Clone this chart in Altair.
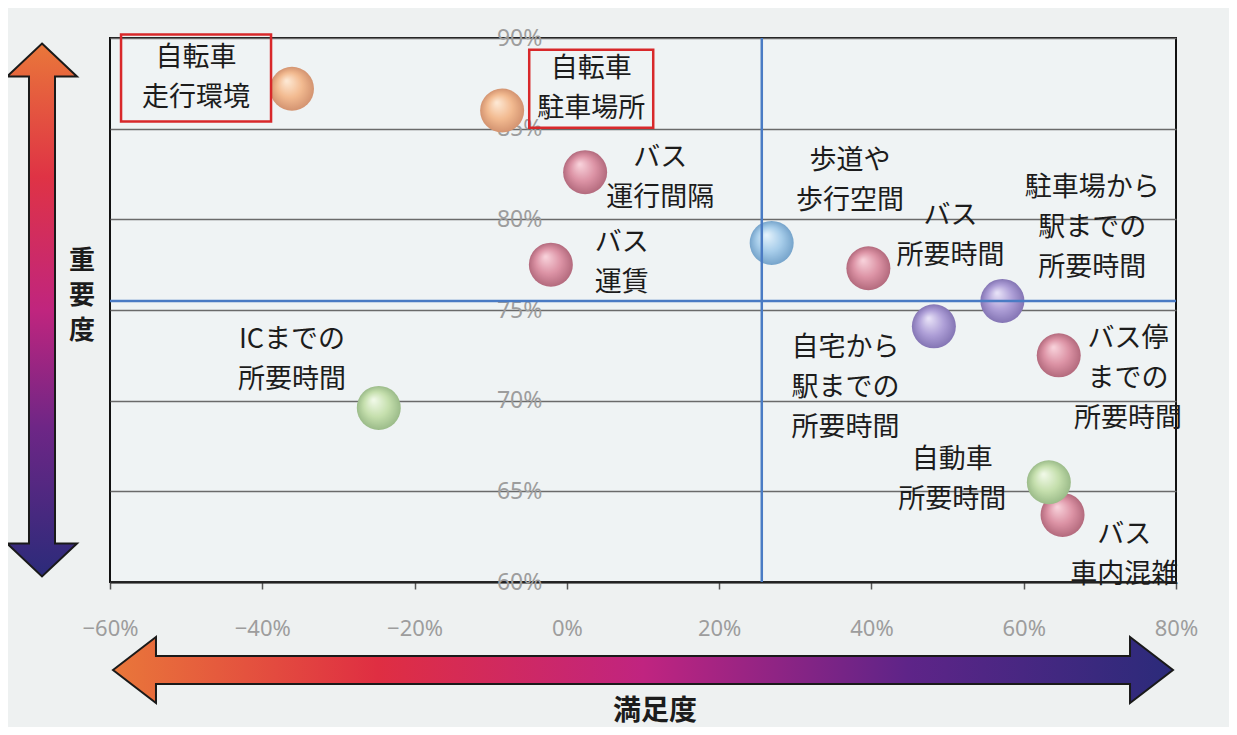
import altair as alt
import pandas as pd

# ---------------- data ----------------
items = [
    "自転車\n走行環境", "自転車\n駐車場所", "バス\n運行間隔", "バス\n運賃",
    "歩道や\n歩行空間", "バス\n所要時間", "駐車場から\n駅までの\n所要時間",
    "自宅から\n駅までの\n所要時間", "バス停\nまでの\n所要時間", "ICまでの\n所要時間",
    "自動車\n所要時間", "バス\n車内混雑",
]
satisfaction = [-36.1, -8.5, 2.4, -2.1, 26.9, 39.6, 57.2, 48.2, 64.6, -24.7, 63.3, 65.1]
importance = [87.2, 86.0, 82.6, 77.5, 78.7, 77.3, 75.5, 74.1, 72.5, 69.6, 65.5, 63.7]
groups = ["bike", "bike", "bus", "bus", "walk", "bus", "station", "station", "bus", "car", "car", "bus"]
highlighted = [True, True] + [False] * 10
# label anchor positions (data units)
label_x = [-48.7, 3.2, 12.25, 7.2, 37.2, 50.4, 69.0, 36.6, 73.7, -36.1, 50.6, 73.2]
label_y = [87.8, 87.2, 82.3, 77.6, 82.1, 79.1, 79.5, 70.7, 71.2, 72.25, 65.6, 61.5]

avg_satisfaction = [25.6]
avg_importance = [75.5]

x_ticks = [-60, -40, -20, 0, 20, 40, 60, 80]
y_ticks = [60, 65, 70, 75, 80, 85, 90]
x_title = "満足度"
y_title = "重\n要\n度"

# ---------------- styling ----------------
W, H = 1066, 544
FONT = "Noto Sans CJK JP"
LABEL_SIZE = 27
LINE_H = 40

sphere_colors = {
    "bike": ("#fde7d2", "#f2ba90", "#d39370"),
    "bus": ("#f7d0d9", "#dc93a5", "#b36a7d"),
    "walk": ("#e4f2fb", "#a7cdea", "#76a4cb"),
    "station": ("#e6e0f6", "#ae9fd7", "#8475b4"),
    "car": ("#eff8e6", "#c5dfad", "#9bbb89"),
}
group_order = ["bike", "bus", "walk", "station", "car"]


def sphere(hi, mid, edge):
    return {
        "gradient": "radial",
        "x1": 0.38, "y1": 0.32, "r1": 0.02,
        "x2": 0.5, "y2": 0.5, "r2": 0.5,
        "stops": [
            {"offset": 0, "color": hi},
            {"offset": 0.55, "color": mid},
            {"offset": 1, "color": edge},
        ],
    }


df = pd.DataFrame({
    "item": items,
    "satisfaction": satisfaction,
    "importance": importance,
    "group": groups,
    "highlighted": highlighted,
    "label_x": label_x,
    "label_y": label_y,
})
df["nlines"] = df["item"].str.count("\n") + 1

X_SCALE = alt.Scale(domain=[-60, 80], nice=False, zero=False)
Y_SCALE = alt.Scale(domain=[60, 90], nice=False, zero=False)

x_axis = alt.Axis(
    values=x_ticks,
    labelExpr="(datum.value < 0 ? '−' + abs(datum.value) : datum.value) + '%'",
    grid=False, domain=True, domainColor="#222", domainWidth=2,
    ticks=True, tickColor="#555", tickSize=7, tickWidth=1.5,
    labelPadding=29, labelColor="#9d9d9d", labelFontSize=22, labelFont="Noto Sans",
    labelFlush=False, labelOverlap=False, title=None,
)
y_axis = alt.Axis(
    values=y_ticks,
    labelExpr="datum.value + '%'",
    grid=True, gridColor="#6a6a6a", gridWidth=1.6,
    domain=False, ticks=False, tickSize=0,
    offset=-(60 / 140) * W, labelPadding=25,
    labelColor="#9d9d9d", labelFontSize=23, labelFont="Noto Sans",
    labelFlush=False, labelOverlap=False, title=None,
)


def X(f):
    return alt.X(f"{f}:Q", scale=X_SCALE, axis=x_axis, title=None)


def Y(f):
    return alt.Y(f"{f}:Q", scale=Y_SCALE, axis=y_axis, title=None)


layers = []

# spheres, one layer per colour group
for g in group_order:
    hi, mid, edge = sphere_colors[g]
    layers.append(
        alt.Chart(df).transform_filter(alt.datum.group == g)
        .mark_point(shape="circle", size=44 * 44, filled=True, fill=sphere(hi, mid, edge),
                    opacity=1, fillOpacity=1, strokeWidth=0)
        .encode(x=X("satisfaction"), y=Y("importance"))
    )

# average lines (on top of the spheres)
layers.append(
    alt.Chart(pd.DataFrame({"satisfaction": avg_satisfaction}))
    .mark_rule(color="#4a7bc4", strokeWidth=2.5)
    .encode(x=X("satisfaction"))
)
layers.append(
    alt.Chart(pd.DataFrame({"importance": avg_importance}))
    .mark_rule(color="#4a7bc4", strokeWidth=2.5)
    .encode(y=Y("importance"))
)

# red boxes round the highlighted labels
box_dims = [(150, 87, 0), (124, 78, -3)]  # width, height, dy
hl = df[df["highlighted"]].reset_index(drop=True)
for i, (bw, bh, bdy) in enumerate(box_dims):
    r = bh / bw
    path = f"M -1 {-r:.4f} L 1 {-r:.4f} L 1 {r:.4f} L -1 {r:.4f} Z"
    layers.append(
        alt.Chart(hl.iloc[[i]])
        .mark_point(shape=path, size=bw * bw, filled=False, stroke="#d8282a",
                    strokeWidth=2.5, opacity=1, dy=bdy)
        .encode(x=X("label_x"), y=Y("label_y"))
    )

# labels (multi-line blocks centred on their anchor)
for n in (2, 3):
    layers.append(
        alt.Chart(df).transform_filter(alt.datum.nlines == n)
        .mark_text(font=FONT, fontSize=LABEL_SIZE, lineBreak="\n", lineHeight=LINE_H,
                   color="#1c1c1c", align="center", baseline="middle",
                   dy=-(n - 1) * LINE_H / 2)
        .encode(x=X("label_x"), y=Y("label_y"), text="item:N")
    )

# gradient arrows
one = pd.DataFrame({"k": [0]})
v_grad = {
    "gradient": "linear", "x1": 0, "y1": 0, "x2": 0, "y2": 1,
    "stops": [
        {"offset": 0, "color": "#e9773a"},
        {"offset": 0.25, "color": "#df3345"},
        {"offset": 0.5, "color": "#c0257e"},
        {"offset": 0.72, "color": "#6e2686"},
        {"offset": 1, "color": "#2b2b7a"},
    ],
}
h_grad = {
    "gradient": "linear", "x1": 0, "y1": 0, "x2": 1, "y2": 0,
    "stops": [
        {"offset": 0, "color": "#e9773a"},
        {"offset": 0.25, "color": "#df2e42"},
        {"offset": 0.5, "color": "#c02480"},
        {"offset": 0.75, "color": "#5e2488"},
        {"offset": 1, "color": "#2b2b7a"},
    ],
}
v_path = ("M 0 -1 L 0.1313 -0.8762 L 0.0488 -0.8762 L 0.0488 0.8762 L 0.1313 0.8762 "
          "L 0 1 L -0.1313 0.8762 L -0.0488 0.8762 L -0.0488 -0.8762 L -0.1313 -0.8762 Z")
h_path = ("M -1 0 L -0.9189 -0.0623 L -0.9189 -0.0264 L 0.9189 -0.0264 L 0.9189 -0.0623 "
          "L 1 0 L 0.9189 0.0623 L 0.9189 0.0264 L -0.9189 0.0264 L -0.9189 0.0623 Z")

layers.append(
    alt.Chart(one).mark_point(shape=v_path, size=533 * 533, filled=True, fill=v_grad,
                              stroke="#1a1a1a", strokeWidth=2, opacity=1, fillOpacity=1)
    .encode(x=alt.value(-68), y=alt.value(272))
)
layers.append(
    alt.Chart(one).mark_point(shape=h_path, size=1060 * 1060, filled=True, fill=h_grad,
                              stroke="#1a1a1a", strokeWidth=2, opacity=1, fillOpacity=1)
    .encode(x=alt.value(533), y=alt.value(632))
)

# axis titles
layers.append(
    alt.Chart(pd.DataFrame({"t": [y_title]}))
    .mark_text(font=FONT, fontSize=26, fontWeight="bold", lineBreak="\n", lineHeight=35,
               color="#1c1c1c", align="center", baseline="middle", dy=-35)
    .encode(text="t:N", x=alt.value(-28), y=alt.value(258))
)
layers.append(
    alt.Chart(pd.DataFrame({"t": [x_title]}))
    .mark_text(font=FONT, fontSize=28, fontWeight="bold",
               color="#1c1c1c", align="center", baseline="middle")
    .encode(text="t:N", x=alt.value(545), y=alt.value(674))
)

chart = (
    alt.layer(*layers)
    .properties(
        width=W, height=H,
        autosize=alt.AutoSizeParams(type="none"),
        padding={"left": 102, "top": 30, "right": 1221 - 102 - W, "bottom": 719 - 30 - H},
        background="#eef1f1",
    )
    .configure_view(fill="#eff3f4", stroke="#111111", strokeWidth=2)
)

chart.save("out.html", embed_options={"renderer": "svg", "actions": False})
